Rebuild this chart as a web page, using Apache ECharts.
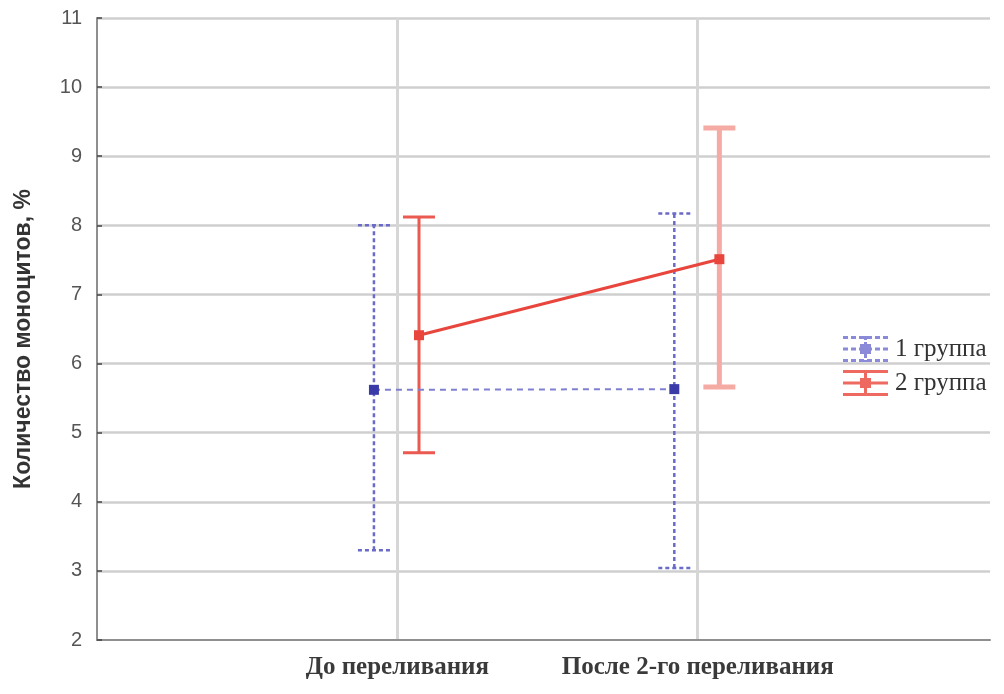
<!DOCTYPE html>
<html><head><meta charset="utf-8">
<script src="https://cdn.jsdelivr.net/npm/echarts@6/dist/echarts.min.js"></script>
<style>html,body{margin:0;padding:0;background:#fff}#c{width:1004px;height:694px}</style>
</head><body><div id="c"></div>
<script>
const categories = ['До переливания', 'После 2-го переливания'];
const seriesNames = ['1 группа', '2 группа'];
const group1Mean = [5.62, 5.63];
const group1Low = [3.30, 3.04];
const group1High = [8.00, 8.17];
const group2Mean = [6.41, 7.51];
const group2Low = [4.71, 5.66];
const group2High = [8.12, 9.41];
const yTicks = [2, 3, 4, 5, 6, 7, 8, 9, 10, 11];

const RED = '#e8453c';
const offB = -0.078, offR = 0.072;

function pts(mean, off) { return mean.map((v, i) => [i + 1 + off, v]); }
function bars(low, high, off) { return low.map((v, i) => [i + 1 + off, v, high[i]]); }

function errRender(dashed, styles) {
  return function (params, api) {
    const x = api.value(0);
    const lo = api.coord([x, api.value(1)]);
    const hi = api.coord([x, api.value(2)]);
    const w = 16;
    const s = styles[params.dataIndex];
    const st = { stroke: s.c, lineWidth: s.w, lineDash: dashed ? [4, 3] : null };
    return { type: 'group', children: [
      { type: 'line', shape: { x1: lo[0], y1: lo[1], x2: hi[0], y2: hi[1] }, style: st },
      { type: 'line', shape: { x1: hi[0] - w, y1: hi[1], x2: hi[0] + w, y2: hi[1] }, style: st },
      { type: 'line', shape: { x1: lo[0] - w, y1: lo[1], x2: lo[0] + w, y2: lo[1] }, style: st }
    ]};
  };
}

// legend icons (45 x 26 box)
function dashRow(y) {
  let p = '';
  for (let x = 0; x < 45; x += 8) p += 'M' + x + ',' + y + 'H' + Math.min(x + 5, 45) + 'V' + (y + 3) + 'H' + x + 'Z ';
  return p;
}
let blueIcon = 'path://' + dashRow(0) + dashRow(11.5) + dashRow(23);
for (let y = 0; y < 26; y += 6) blueIcon += 'M21,' + y + 'H24V' + Math.min(y + 4, 26) + 'H21Z ';
blueIcon += 'M17,8H28V18H17Z';
const redIcon = 'path://M0,0H45V3H0Z M0,11.5H45V14.5H0Z M0,23H45V26H0Z M21,0H24V26H21Z M17,8H28V18H17Z';

const chart = echarts.init(document.getElementById('c'));
chart.setOption({
  animation: false,
  backgroundColor: '#fff',
  grid: { left: 97, right: 14, top: 18, bottom: 54 },
  legend: {
    left: 838, top: 331, orient: 'vertical', itemGap: 8, itemWidth: 45, itemHeight: 26,
    data: [
      { name: seriesNames[0], icon: blueIcon, itemStyle: { color: '#8a8ad8' } },
      { name: seriesNames[1], icon: redIcon, itemStyle: { color: '#ee6a60' } }
    ],
    textStyle: { fontFamily: 'Liberation Serif', fontSize: 25, color: '#333', padding: [0, 0, 0, 2] }
  },
  xAxis: {
    type: 'value', min: 0, max: 2.973, interval: 1,
    axisLine: { show: true, onZero: false, lineStyle: { color: '#8f8f8f', width: 2 } },
    axisTick: { show: false },
    splitLine: { show: true, showMinLine: false, showMaxLine: false, lineStyle: { color: '#d6d6d6', width: 3 } },
    axisLabel: {
      margin: 15, fontFamily: 'Liberation Serif', fontWeight: 'bold', fontSize: 25, color: '#3a3a3a',
      formatter: v => (v >= 1 && v <= categories.length ? categories[v - 1] : '')
    }
  },
  yAxis: {
    type: 'value', min: yTicks[0], max: yTicks[yTicks.length - 1], interval: 1,
    name: 'Количество моноцитов, %', nameLocation: 'middle', nameGap: 62, nameRotate: 90,
    nameTextStyle: { fontFamily: 'Liberation Sans', fontWeight: 'bold', fontSize: 23, color: '#333', padding: [0, 20, 0, 0] },
    axisLine: { show: true, lineStyle: { color: '#8f8f8f', width: 2 } },
    axisTick: { show: true, inside: true, length: 5, lineStyle: { color: '#444', width: 1.5 } },
    splitLine: { show: true, showMinLine: false, lineStyle: { color: '#cfcfcf', width: 2.5 } },
    axisLabel: { margin: 15, fontFamily: 'Liberation Sans', fontSize: 20, color: '#555' }
  },
  series: [
    {
      name: seriesNames[0], type: 'custom', data: bars(group1Low, group1High, offB),
      renderItem: errRender(true, [{ c: '#6a6ac8', w: 2.5 }, { c: '#6a6ac8', w: 2.5 }]),
      encode: { x: 0, y: [1, 2] }, z: 2
    },
    {
      name: seriesNames[0], type: 'line', data: pts(group1Mean, offB),
      symbol: 'rect', symbolSize: 10, itemStyle: { color: '#3a3aa8' },
      lineStyle: { color: '#8080d0', width: 2, type: [6, 5] }, z: 3
    },
    {
      name: seriesNames[1], type: 'custom', data: bars(group2Low, group2High, offR),
      renderItem: errRender(false, [{ c: '#ea5a50', w: 3 }, { c: '#f5aaa4', w: 5 }]),
      encode: { x: 0, y: [1, 2] }, z: 2
    },
    {
      name: seriesNames[1], type: 'line', data: pts(group2Mean, offR),
      symbol: 'rect', symbolSize: 10, itemStyle: { color: RED },
      lineStyle: { color: RED, width: 3 }, z: 3
    }
  ]
});
</script></body></html>
